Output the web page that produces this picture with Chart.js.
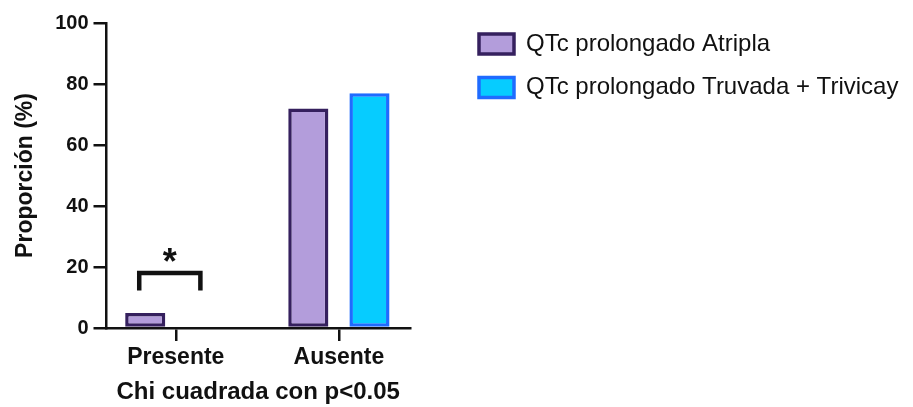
<!DOCTYPE html>
<html>
<head>
<meta charset="utf-8">
<script src="https://cdn.jsdelivr.net/npm/chart.js@4.4.1/dist/chart.umd.min.js"></script>
<style>
  html, body { margin: 0; padding: 0; background: #fff; }
  #wrap { width: 913px; height: 407px; }
</style>
</head>
<body>
<div id="wrap"><canvas id="chart" width="913" height="407"></canvas></div>
<script>
// Groups on the x axis
const categories = ['Presente', 'Ausente'];
// Series names (legend)
const seriesNames = ['QTc prolongado Atripla', 'QTc prolongado Truvada + Trivicay'];
// Proportions (%) per group
const atripla = [4.9, 72.0];
const truvadaTrivicay = [0, 77.0];
// Y axis ticks
const yTicks = [0, 20, 40, 60, 80, 100];
// Axis titles and significance marker
const yTitle = 'Proporción (%)';
const xTitle = 'Chi cuadrada con p<0.05';
const significance = '*';

const FONT = "'Liberation Sans', Arial, Helvetica, sans-serif";
const INK = '#111111';

const toPoints = vals => vals.map((v, i) => ({ x: i, y: v }));

// Legend sits in the space right of the plot, items start further in
const legendSpace = {
  id: 'legendSpace',
  beforeInit(chart) {
    const lg = chart.legend;
    const fit = lg.fit;
    lg.fit = function () {
      fit.call(this);
      this.width = chart.width - 410;
    };
  },
  beforeDraw(chart) {
    const lg = chart.legend;
    const pad = lg.options.labels.padding;
    lg.left = 479 - pad;
    lg.right = lg.left + lg.width;
    lg.top = 32 - pad;
  }
};

// Bracket with asterisk over the "Presente" pair
const significanceMark = {
  id: 'significanceMark',
  afterDatasetsDraw(chart) {
    const { ctx, scales: { y } } = chart;
    const a = chart.getDatasetMeta(0).data[0];
    const b = chart.getDatasetMeta(1).data[0];
    const left = a.x - 6, right = b.x - 6;
    const top = y.getPixelForValue(18);
    const leg = y.getPixelForValue(12.3);
    ctx.save();
    ctx.strokeStyle = INK;
    ctx.lineWidth = 4.5;
    ctx.lineJoin = 'miter';
    ctx.lineCap = 'butt';
    ctx.beginPath();
    ctx.moveTo(left, leg);
    ctx.lineTo(left, top);
    ctx.lineTo(right, top);
    ctx.lineTo(right, leg);
    ctx.stroke();
    ctx.font = 'bold 36px ' + FONT;
    ctx.fillStyle = INK;
    ctx.textAlign = 'center';
    ctx.textBaseline = 'alphabetic';
    const m = ctx.measureText(significance);
    const cy = top - 18;
    ctx.fillText(significance, (left + right) / 2, cy + (m.actualBoundingBoxAscent - m.actualBoundingBoxDescent) / 2);
    ctx.restore();
  }
};

const axisGrid = {
  display: true,
  offset: false,
  drawOnChartArea: false,
  drawTicks: true,
  tickLength: 13,
  tickWidth: 2.5,
  tickColor: INK,
  color: INK,
  lineWidth: 2.5
};

new Chart(document.getElementById('chart'), {
  type: 'bar',
  data: {
    datasets: [
      {
        label: seriesNames[0],
        data: toPoints(atripla),
        backgroundColor: '#b39ddb',
        borderColor: '#35205e',
        borderWidth: 3.5,
        borderSkipped: false,
        barPercentage: 0.656,
        categoryPercentage: 0.75
      },
      {
        label: seriesNames[1],
        data: toPoints(truvadaTrivicay),
        backgroundColor: '#06ccff',
        borderColor: '#1f6bff',
        borderWidth: 3.5,
        borderSkipped: false,
        barPercentage: 0.656,
        categoryPercentage: 0.75
      }
    ]
  },
  options: {
    responsive: false,
    animation: false,
    devicePixelRatio: 1,
    layout: { padding: { top: 23, left: 0, right: 0, bottom: 0 } },
    plugins: {
      tooltip: { enabled: false },
      legend: {
        position: 'right',
        align: 'start',
        labels: {
          boxWidth: 35,
          boxHeight: 20,
          padding: 19.5,
          color: INK,
          font: { family: FONT, size: 24 }
        }
      }
    },
    scales: {
      x: {
        type: 'linear',
        min: -0.425,
        max: 1.436,
        offset: false,
        grid: axisGrid,
        border: { display: true, width: 2.5, color: INK },
        afterBuildTicks: s => { s.ticks = categories.map((_, i) => ({ value: i })); },
        afterFit: s => { s.height = 79; },
        ticks: {
          autoSkip: false,
          maxRotation: 0,
          padding: 3,
          color: INK,
          font: { family: FONT, size: 23, weight: 'bold' },
          callback: v => categories[v] ?? ''
        },
        title: {
          display: true,
          text: xTitle,
          color: INK,
          font: { family: FONT, size: 24, weight: 'bold' },
          padding: { top: 0, bottom: 0 }
        }
      },
      y: {
        min: 0,
        max: 100,
        grid: axisGrid,
        border: { display: true, width: 2.5, color: INK },
        afterBuildTicks: s => { s.ticks = yTicks.map(v => ({ value: v })); },
        afterFit: s => { s.width = 106.5; },
        ticks: {
          padding: 5,
          color: INK,
          font: { family: FONT, size: 20, weight: 'bold' }
        },
        title: {
          display: true,
          text: yTitle,
          color: INK,
          font: { family: FONT, size: 23, weight: 'bold' },
          padding: { top: 12, bottom: 0 }
        }
      }
    }
  },
  plugins: [legendSpace, significanceMark]
});
</script>
</body>
</html>
